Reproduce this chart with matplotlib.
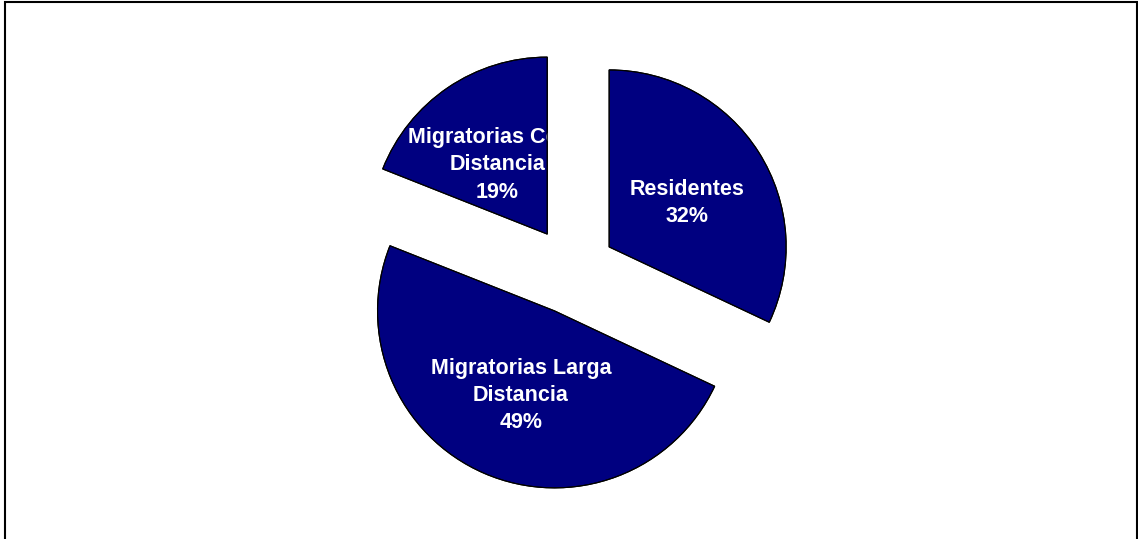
import matplotlib.pyplot as plt
from matplotlib.patches import Rectangle, Wedge

plt.rcParams["font.family"] = ["Liberation Sans", "DejaVu Sans"]

categories = ["Residentes", "Migratorias Larga\nDistancia", "Migratorias Corta\nDistancia"]
shares = [32, 49, 19]

W, H = 1138, 539

fig = plt.figure(figsize=(W / 100, H / 100), dpi=100)
ax = fig.add_axes([0, 0, 1, 1])

labels = [f"{c}\n{s}%" for c, s in zip(categories, shares)]
wedges, texts = ax.pie(
    shares,
    labels=labels,
    colors=["#000080"] * 3,
    startangle=90,
    counterclock=False,
    radius=177,
    center=(572, H - 270.5),
    explode=[44, 44, 44],
    labeldistance=0.52,
    wedgeprops=dict(edgecolor="black", linewidth=0.8),
    frame=False,
)

# small nudges of the label blocks inside each slice
nudges = [(0, -5), (3, 0), (2, -7)]
for w, t, (dx, dy) in zip(wedges, texts, nudges):
    x, y = t.get_position()
    t.set_position((x + dx, y + dy))
    t.set_color("white")
    t.set_fontweight("bold")
    t.set_fontsize(15.5)
    t.set_horizontalalignment("center")
    t.set_verticalalignment("center")
    t.set_multialignment("center")
    t.set_linespacing(1.38)
    t.set_zorder(2)
    # white labels only show on their own slice
    t.set_clip_path(w)
    # slice outline on top of the label
    ax.add_patch(Wedge(w.center, w.r, w.theta1, w.theta2, fill=False,
                       edgecolor="black", linewidth=0.8, zorder=3))

ax.set_xlim(0, W)
ax.set_ylim(0, H)
ax.set_axis_off()

# chart area border
fig.patches.append(
    Rectangle((4.5 / W, -0.1), (1137 - 4.5) / W, (H - 2) / H + 0.1,
              transform=fig.transFigure, fill=False, edgecolor="black", linewidth=1.5)
)

fig.savefig("out.png", dpi=100)
